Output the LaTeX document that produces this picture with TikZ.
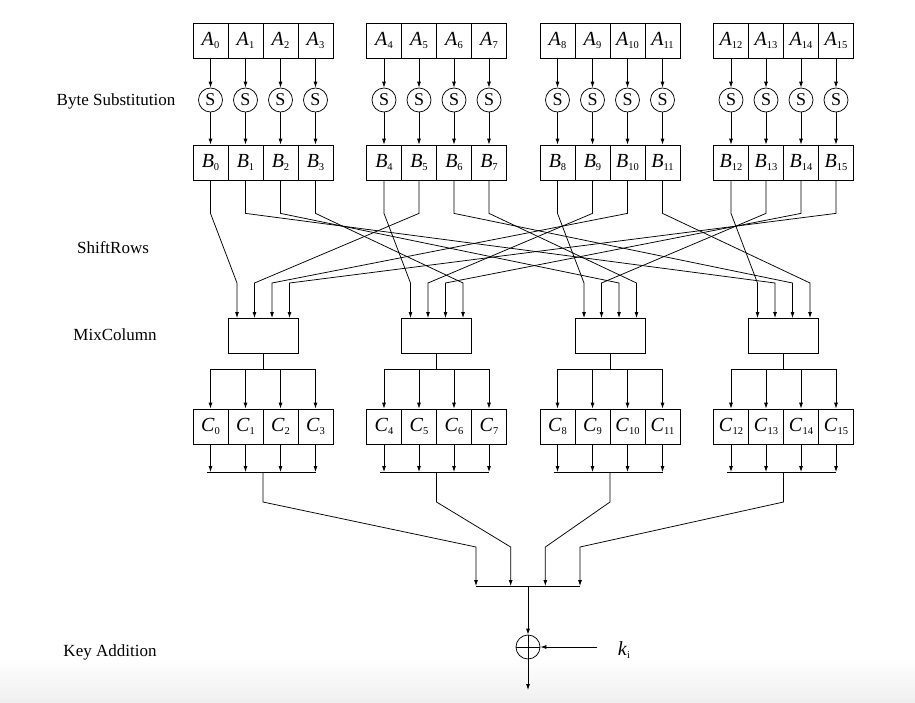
\documentclass[tikz,border=0pt]{standalone}
\usepackage{fontspec}
\setmainfont{Liberation Serif}
\usetikzlibrary{arrows.meta,calc}
\newcommand\celltxt[2]{\textit{#1}\raisebox{-3pt}{\fontsize{10.5}{10.5}\selectfont #2}}
\begin{document}
\begin{tikzpicture}[x=1pt,y=-1pt,line width=0.75pt,
  cell/.style={draw,minimum width=35pt,minimum height=35pt,inner sep=0pt,font=\fontsize{20}{20}\selectfont},
  sbox/.style={draw,circle,minimum size=24pt,inner sep=0pt,font=\fontsize{18}{18}\selectfont},
  mcbox/.style={draw,minimum width=70pt,minimum height=35pt,inner sep=0pt},
  xorbox/.style={draw,circle,minimum size=24pt,inner sep=0pt},
  lbl/.style={font=\fontsize{17}{17}\selectfont},
  arr/.style={-{Latex[length=6pt,width=4pt]}}]
\useasboundingbox (0,0) rectangle (915,702);
\shade[top color=white,bottom color=black!6] (0,658) rectangle (915,702);
% labels
\node[lbl] (l1) at (116,101) {Byte Substitution};
\node[lbl] (l2) at (113,248) {ShiftRows};
\node[lbl] (l3) at (115,335) {MixColumn};
\node[lbl] (l4) at (110,652) {Key Addition};
% cells
\foreach \g in {0,...,3}{
  \foreach \j in {0,...,3}{
    \pgfmathtruncatemacro\i{4*\g+\j}
    \pgfmathsetmacro\cx{210.5+173.5*\g+35*\j}
    \node[cell] (a\i) at (\cx,40.5) {\celltxt{A}{\i}};
    \node[sbox] (s\i) at (\cx,100) {S};
    \node[cell] (b\i) at (\cx,162.5) {\celltxt{B}{\i}};
    \node[cell] (c\i) at (\cx,426.5) {\celltxt{C}{\i}};
    \draw[arr] (a\i) -- (s\i);
    \draw[arr] (s\i) -- (b\i);
    \pgfmathsetmacro\ix{237+173.5*\g+17.5*\j}
    \coordinate (mi-\g-\j) at (\ix,318);
  }
  \pgfmathsetmacro\mx{263+173.5*\g}
  \node[mcbox] (m\g) at (\mx,335.5) {};
  \coordinate (mo\g) at (\mx,369);
  \coordinate (co\g) at (\mx,472);
  \pgfmathsetmacro\fx{476+34.67*\g}
  \coordinate (f\g) at (\fx,586);
}
% ShiftRows wiring
\foreach \g in {0,...,3}{
  \foreach \j in {0,...,3}{
    \pgfmathtruncatemacro\k{4*mod(\g+\j,4)+\j}
    \draw[arr] (b\k.south) -- ++(0,33) -- ($(mi-\g-\j)+(0,-35)$) -- (mi-\g-\j);
  }
}
% MixColumn outputs and C outputs
\foreach \g in {0,...,3}{
  \pgfmathtruncatemacro\first{4*\g}
  \pgfmathtruncatemacro\last{4*\g+3}
  \draw (m\g.south) -- (mo\g);
  \draw (c\first |- mo\g) -- (c\last |- mo\g);
  \draw ($(c\first |- co\g)+(-4,0)$) -- (c\last |- co\g);
  \foreach \j in {0,...,3}{
    \pgfmathtruncatemacro\i{4*\g+\j}
    \draw[arr] (c\i |- mo\g) -- (c\i);
    \draw[arr] (c\i) -- (c\i |- co\g);
  }
  \draw[arr] (co\g) -- ++(0,30) -- ($(f\g)+(0,-39)$) -- (f\g);
}
% key addition
\draw (f0) -- (f3);
\coordinate (fc) at (528,586);
\node[xorbox] (x) at (528,647) {};
\draw (x.north) -- (x.south);
\draw (x.west) -- (x.east);
\draw[arr] (fc) -- (x);
\coordinate (out) at (528,690);
\draw[arr] (x) -- (out);
\node (k) at (624,650) {\fontsize{20}{20}\selectfont\celltxt{k}{i}};
\coordinate (kst) at (597,647);
\draw[arr] (kst) -- (x.east);
\end{tikzpicture}
\end{document}
